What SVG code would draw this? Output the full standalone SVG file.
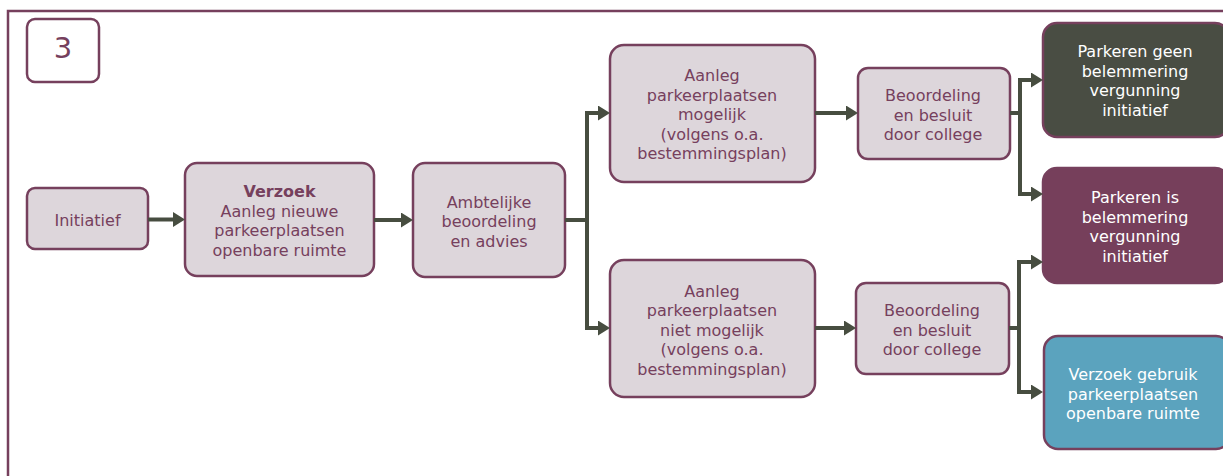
<svg xmlns="http://www.w3.org/2000/svg" width="1223" height="476" viewBox="0 0 1223 476">
<style>
.frame{fill:none;stroke:#76405d;stroke-width:2.5}
.box{fill:#ddd6db;stroke:#76405d;stroke-width:2.5}
.lbl{font-family:"DejaVu Sans","Verdana",sans-serif;font-size:16px;fill:#76405d;text-anchor:middle}
.wlbl{font-family:"DejaVu Sans","Verdana",sans-serif;font-size:16px;fill:#ffffff;text-anchor:middle}
.b{font-weight:bold}
.con{fill:none;stroke:#474d40;stroke-width:4}
.bar{fill:none;stroke:#474d40;stroke-width:4;stroke-linecap:square}
</style>
<defs>
<marker id="ah" markerUnits="userSpaceOnUse" markerWidth="14" markerHeight="16" refX="1" refY="7.5" orient="auto">
<path d="M0,0 L12,7.5 L0,15 z" fill="#474d40"/>
</marker>
</defs>
<rect class="frame" x="8" y="11" width="1240" height="490"/>
<g id="n-step">
<rect class="box" x="27" y="19" width="72" height="63" rx="8" style="fill:#ffffff"/>
<text class="lbl" x="63" y="58" style="font-size:29px">3</text>
</g>
<g id="n-initiatief">
<rect class="box" x="27" y="188" width="121" height="61" rx="8"/>
<text class="lbl" x="87.5" y="226">Initiatief</text>
</g>
<g id="n-verzoek">
<rect class="box" x="185" y="163" width="189" height="113" rx="12"/>
<text class="lbl" x="279.5" y="197"><tspan class="b">Verzoek</tspan><tspan x="279.5" dy="19.5">Aanleg nieuwe</tspan><tspan x="279.5" dy="19.5">parkeerplaatsen</tspan><tspan x="279.5" dy="19.5">openbare ruimte</tspan></text>
</g>
<g id="n-ambtelijk">
<rect class="box" x="413" y="163" width="152" height="114" rx="12"/>
<text class="lbl" x="489" y="207.5">Ambtelijke<tspan x="489" dy="19.5">beoordeling</tspan><tspan x="489" dy="19.5">en advies</tspan></text>
</g>
<g id="n-mogelijk">
<rect class="box" x="610" y="45" width="205" height="137" rx="14"/>
<text class="lbl" x="712" y="81">Aanleg<tspan x="712" dy="19.5">parkeerplaatsen</tspan><tspan x="712" dy="19.5">mogelijk</tspan><tspan x="712" dy="19.5">(volgens o.a.</tspan><tspan x="712" dy="19.5">bestemmingsplan)</tspan></text>
</g>
<g id="n-nietmogelijk">
<rect class="box" x="610" y="260" width="205" height="137" rx="14"/>
<text class="lbl" x="712" y="296.5">Aanleg<tspan x="712" dy="19.5">parkeerplaatsen</tspan><tspan x="712" dy="19.5">niet mogelijk</tspan><tspan x="712" dy="19.5">(volgens o.a.</tspan><tspan x="712" dy="19.5">bestemmingsplan)</tspan></text>
</g>
<g id="n-besluit1">
<rect class="box" x="858" y="68" width="152" height="91" rx="10"/>
<text class="lbl" x="933" y="101">Beoordeling<tspan x="933" dy="19.5">en besluit</tspan><tspan x="933" dy="19.5">door college</tspan></text>
</g>
<g id="n-besluit2">
<rect class="box" x="856" y="283" width="153" height="91" rx="10"/>
<text class="lbl" x="932" y="316">Beoordeling<tspan x="932" dy="19.5">en besluit</tspan><tspan x="932" dy="19.5">door college</tspan></text>
</g>
<g id="n-geen">
<rect class="box" x="1043" y="23" width="186" height="114" rx="14" style="fill:#494d43"/>
<text class="wlbl" x="1135" y="57">Parkeren geen<tspan x="1135" dy="19.5">belemmering</tspan><tspan x="1135" dy="19.5">vergunning</tspan><tspan x="1135" dy="19.5">initiatief</tspan></text>
</g>
<g id="n-is">
<rect class="box" x="1043" y="168" width="186" height="115" rx="14" style="fill:#763f5b"/>
<text class="wlbl" x="1135" y="203">Parkeren is<tspan x="1135" dy="19.5">belemmering</tspan><tspan x="1135" dy="19.5">vergunning</tspan><tspan x="1135" dy="19.5">initiatief</tspan></text>
</g>
<g id="n-gebruik">
<rect class="box" x="1044" y="336" width="186" height="113" rx="14" style="fill:#5ba3be"/>
<text class="wlbl" x="1133" y="380">Verzoek gebruik<tspan x="1133" dy="19.5">parkeerplaatsen</tspan><tspan x="1133" dy="19.5">openbare ruimte</tspan></text>
</g>
<g id="connectors">
<path class="con" d="M148,219.5 H174" marker-end="url(#ah)"/>
<path class="con" d="M374,220 H402" marker-end="url(#ah)"/>
<path class="con" d="M565,220 H587"/>
<path class="bar" d="M587,113 V328"/>
<path class="con" d="M587,113 H599" marker-end="url(#ah)"/>
<path class="con" d="M587,328 H599" marker-end="url(#ah)"/>
<path class="con" d="M815,113 H847" marker-end="url(#ah)"/>
<path class="con" d="M815,328 H845" marker-end="url(#ah)"/>
<path class="con" d="M1010,113 H1020"/>
<path class="bar" d="M1020,80 V194"/>
<path class="con" d="M1020,80 H1032" marker-end="url(#ah)"/>
<path class="con" d="M1020,194 H1032" marker-end="url(#ah)"/>
<path class="con" d="M1009,328 H1019"/>
<path class="bar" d="M1019,262 V392"/>
<path class="con" d="M1019,262 H1032" marker-end="url(#ah)"/>
<path class="con" d="M1019,392 H1032" marker-end="url(#ah)"/>
</g>
</svg>
